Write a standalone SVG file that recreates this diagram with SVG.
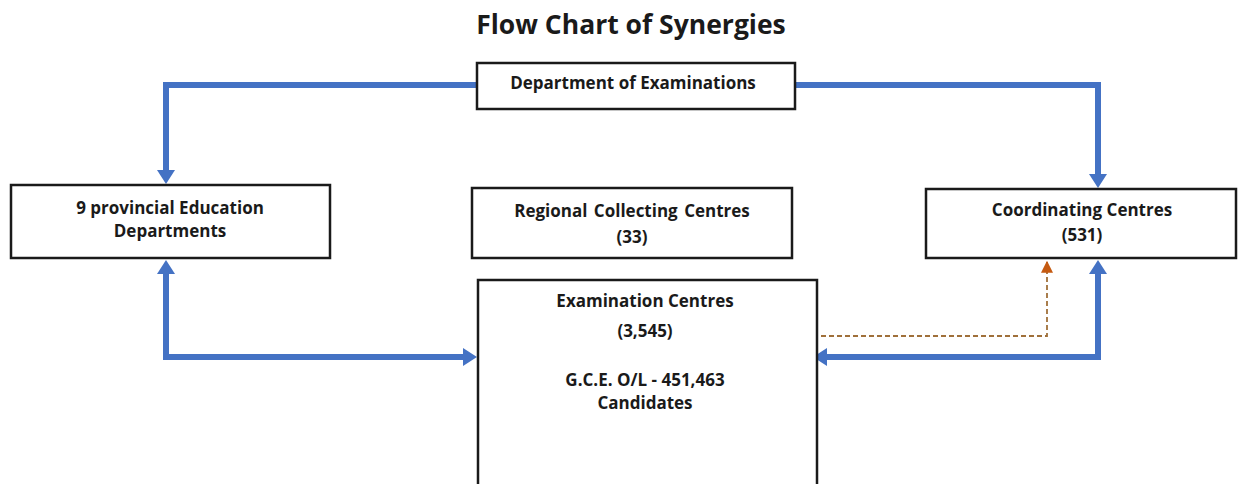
<svg xmlns="http://www.w3.org/2000/svg" width="1243" height="484" viewBox="0 0 1243 484">
<defs>
<marker id="ab" markerUnits="userSpaceOnUse" markerWidth="18" markerHeight="18" viewBox="0 0 14 18" refX="4" refY="9" orient="auto-start-reverse">
<path d="M0,0 L14,9 L0,18 Z" fill="#4472C4"/>
</marker>
<marker id="ao" markerUnits="userSpaceOnUse" markerWidth="12" markerHeight="12" viewBox="0 0 10 10" refX="9" refY="5" orient="auto">
<path d="M0,0 L10,5 L0,10 Z" fill="#C55A11"/>
</marker>
</defs>
<style>
.box{fill:#fff;stroke:#1a1a1a;stroke-width:2.5}
.t{font-family:"Open Sans","Liberation Sans",sans-serif;font-weight:bold;font-size:17px;fill:#1a1a1a;text-anchor:middle}
.blue{fill:none;stroke:#4472C4;stroke-width:6}
.dash{fill:none;stroke:#A0703A;stroke-width:1.8;stroke-dasharray:5,3}
</style>
<rect width="1243" height="484" fill="#fff"/>
<text x="631" y="34" class="t" style="font-size:26.5px">Flow Chart of Synergies</text>
<g id="connectors">
<path class="blue" d="M477,85 H166 V174" marker-end="url(#ab)"/>
<path class="blue" d="M795,85 H1098 V178" marker-end="url(#ab)"/>
<path class="blue" d="M166,270 V357 H467" marker-start="url(#ab)" marker-end="url(#ab)"/>
<path class="blue" d="M1098,270 V357 H823" marker-start="url(#ab)" marker-end="url(#ab)"/>
<path class="dash" d="M813,336 H1047 V262" marker-end="url(#ao)"/>
</g>
<g id="dept">
<rect class="box" x="477" y="63" width="318" height="46"/>
<text x="633" y="89" class="t">Department of Examinations</text>
</g>
<g id="provincial">
<rect class="box" x="11" y="185" width="319" height="73"/>
<text x="170" y="214" class="t">9 provincial Education</text>
<text x="170" y="237" class="t">Departments</text>
</g>
<g id="regional">
<rect class="box" x="472" y="188" width="320" height="70"/>
<text x="632" y="217" class="t" style="word-spacing:2px">Regional Collecting Centres</text>
<text x="632" y="243" class="t">(33)</text>
</g>
<g id="coordinating">
<rect class="box" x="926" y="189" width="310" height="69"/>
<text x="1082" y="216" class="t">Coordinating Centres</text>
<text x="1082" y="241" class="t">(531)</text>
</g>
<g id="exam">
<rect class="box" x="478" y="280" width="339" height="220"/>
<text x="645" y="307" class="t">Examination Centres</text>
<text x="645" y="337" class="t">(3,545)</text>
<text x="645" y="386" class="t">G.C.E. O/L - 451,463</text>
<text x="645" y="409" class="t">Candidates</text>
</g>
</svg>
